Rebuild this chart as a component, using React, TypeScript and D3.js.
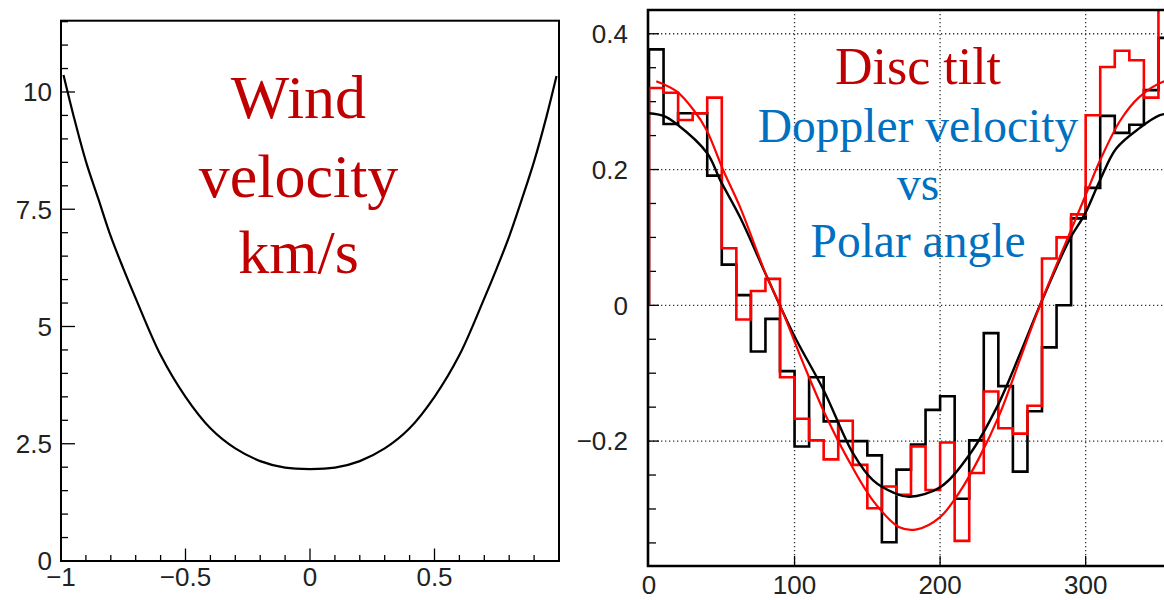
import React from 'react';
import * as d3 from 'd3';

// ---------- Left panel: wind velocity vs cos(theta) ----------
const windX = [-0.99, -0.95, -0.9, -0.85, -0.8, -0.75, -0.7, -0.6, -0.5, -0.4, -0.3, -0.2, -0.1, 0, 0.1, 0.2, 0.3, 0.4, 0.5, 0.6, 0.7, 0.75, 0.8, 0.85, 0.9, 0.95, 0.99];
const windV = [10.36, 9.50, 8.52, 7.72, 6.92, 6.24, 5.60, 4.39, 3.50, 2.83, 2.40, 2.13, 1.99, 1.96, 1.99, 2.13, 2.40, 2.83, 3.50, 4.39, 5.60, 6.24, 6.92, 7.70, 8.52, 9.48, 10.34];
const leftYMajor = [0, 2.5, 5, 7.5, 10];
const leftYLabels = ['0', '2.5', '5', '7.5', '10'];
const leftXMajor = [-1, -0.5, 0, 0.5, 1];
const leftXLabels = ['\u22121', '\u22120.5', '0', '0.5', '1'];
const leftTitle = ['Wind', 'velocity', 'km/s'];

// ---------- Right panel: Doppler velocity vs polar angle ----------
const binStart = [0, 10, 20, 30, 40, 50, 60, 70, 80, 90, 100, 110, 120, 130, 140, 150, 160, 170, 180, 190, 200, 210, 220, 230, 240, 250, 260, 270, 280, 290, 300, 310, 320, 330, 340, 350];
const binWidth = 10;
const blackHist = [0.377, 0.267, 0.283, 0.283, 0.191, 0.060, 0.015, -0.068, -0.020, -0.097, -0.208, -0.106, -0.171, -0.200, -0.200, -0.221, -0.349, -0.242, -0.205, -0.154, -0.134, -0.285, -0.199, -0.041, -0.119, -0.245, -0.156, -0.062, 0.000, 0.128, 0.173, 0.279, 0.254, 0.266, 0.317, 0.394];
const redHist = [0.320, 0.313, 0.273, 0.283, 0.306, 0.084, -0.021, 0.021, 0.039, -0.106, -0.167, -0.199, -0.227, -0.170, -0.235, -0.299, -0.267, -0.279, -0.208, -0.272, -0.202, -0.347, -0.247, -0.127, -0.181, -0.189, -0.148, 0.069, 0.100, 0.134, 0.280, 0.351, 0.375, 0.361, 0.306, 0.47];
const blackFitAngle = [0, 10, 19, 40, 49, 62.5, 81, 99.6, 120, 140.4, 154, 168, 179, 200, 220.5, 239, 255, 268.6, 288.7, 299.6, 310, 321, 337, 351, 360];
const blackFitVal = [0.283, 0.279, 0.267, 0.224, 0.184, 0.130, 0.042, -0.044, -0.125, -0.219, -0.258, -0.276, -0.282, -0.268, -0.219, -0.150, -0.071, 0.0, 0.096, 0.135, 0.185, 0.231, 0.261, 0.280, 0.283];
const redFitAngle = [5, 19, 30.5, 39.6, 51, 62.5, 81, 90, 108, 122, 136, 154, 172, 184, 200, 214, 227, 241, 255, 268.6, 289, 300.5, 310, 324, 337, 354, 360];
const redFitVal = [0.330, 0.315, 0.288, 0.258, 0.199, 0.145, 0.042, 0, -0.096, -0.165, -0.224, -0.288, -0.327, -0.330, -0.312, -0.273, -0.224, -0.160, -0.079, 0, 0.106, 0.165, 0.214, 0.273, 0.307, 0.330, 0.332];
const rightYMajor = [-0.2, 0, 0.2, 0.4];
const rightYLabels = ['\u22120.2', '0', '0.2', '0.4'];
const rightXMajor = [0, 100, 200, 300];
const rightXLabels = ['0', '100', '200', '300'];
const rightTitle = [
  { text: 'Disc tilt', color: '#c00000', size: 52 },
  { text: 'Doppler velocity', color: '#0070c0', size: 47.5 },
  { text: 'vs', color: '#0070c0', size: 47.5 },
  { text: 'Polar angle', color: '#0070c0', size: 47.5 },
];

const labelFont = "'Liberation Sans', Arial, Helvetica, sans-serif";
const serifFont = "'Liberation Serif', 'Times New Roman', serif";

export default function App() {
  // left scales
  const xL = d3.scaleLinear().domain([-1, 1]).range([61, 559]);
  const yL = d3.scaleLinear().domain([0, 11.52]).range([561, 20.7]);
  // right scales
  const xR = d3.scaleLinear().domain([0, 360]).range([649, 1173]);
  const yR = d3.scaleLinear().domain([-0.384, 0.435]).range([566, 10]);

  const windLine = d3.line<number>()
    .x((_, i) => xL(windX[i]))
    .y((d) => yL(d))
    .curve(d3.curveCatmullRom.alpha(0.5))(windV) || '';

  const histPath = (vals: number[]) => {
    const pts: [number, number][] = [[xR(0), yR(0)]];
    vals.forEach((v, i) => {
      pts.push([xR(binStart[i]), yR(v)]);
      pts.push([xR(binStart[i] + binWidth), yR(v)]);
    });
    pts.push([xR(360), yR(0)]);
    return d3.line()(pts) || '';
  };

  const fitPath = (ang: number[], val: number[]) =>
    d3.line<number>()
      .x((_, i) => xR(ang[i]))
      .y((d) => yR(d))
      .curve(d3.curveCatmullRom)(val) || '';

  const leftYMinor = yL.ticks(20);
  const leftXMinor = xL.ticks(20);
  const rightYMinor = yR.ticks(20);

  const titleBaselinesL = [118.3, 196.5, 273.3];
  const titleBaselinesR = [83.5, 142, 199.5, 257];
  const leftXLabelX = (t: number) => (t === 1 ? xL(t) + 7 : xL(t));

  return (
    <svg width={1164} height={600} style={{ position: 'absolute', left: 0, top: 0, background: '#fff' }}>
      <defs>
        <clipPath id="leftPanel"><rect x={0} y={0} width={560} height={600} /></clipPath>
        <clipPath id="rightPanel"><rect x={561} y={0} width={603} height={600} /></clipPath>
        <clipPath id="rightPlot"><rect x={648} y={10} width={516} height={556} /></clipPath>
        <clipPath id="leftPlot"><rect x={61} y={20.7} width={498} height={540.3} /></clipPath>
      </defs>
      <rect x={0} y={0} width={1164} height={600} fill="#fff" />

      {/* ---------------- LEFT PANEL ---------------- */}
      <g clipPath="url(#leftPanel)">
        {leftYMinor.map((t) => (
          <line key={'lym' + t} x1={xL(-1)} x2={xL(-1) + (leftYMajor.includes(t) ? 14 : 7)} y1={yL(t)} y2={yL(t)} stroke="#000" strokeWidth={1.3} />
        ))}
        {leftXMinor.map((t) => (
          <line key={'lxm' + t} x1={xL(t)} x2={xL(t)} y1={yL(0)} y2={yL(0) - (leftXMajor.some((m) => Math.abs(m - t) < 1e-9) ? 12.5 : 6)} stroke="#000" strokeWidth={1.3} />
        ))}
        <path d={windLine} fill="none" stroke="#000" strokeWidth={2.2} clipPath="url(#leftPlot)" />
        <rect x={xL(-1)} y={yL(11.52)} width={xL(1) - xL(-1)} height={yL(0) - yL(11.52)} fill="none" stroke="#000" strokeWidth={2} />
        {leftYMajor.map((t, i) => (
          <text key={'lyl' + t} x={52} y={yL(t)} dy="0.36em" textAnchor="end" fontFamily={labelFont} fontSize={26} fill="#222">{leftYLabels[i]}</text>
        ))}
        {leftXMajor.map((t, i) => (
          <text key={'lxl' + t} x={leftXLabelX(t)} y={586} textAnchor="middle" fontFamily={labelFont} fontSize={26} fill="#222">{leftXLabels[i]}</text>
        ))}
        {leftTitle.map((s, i) => (
          <text key={'lt' + i} x={298.5} y={titleBaselinesL[i]} textAnchor="middle" fontFamily={serifFont} fontSize={62} fill="#c00000">{s}</text>
        ))}
      </g>

      {/* ---------------- RIGHT PANEL ---------------- */}
      <g clipPath="url(#rightPanel)">
        {/* dotted grid */}
        <g clipPath="url(#rightPlot)">
          {rightYMajor.map((t) => (
            <line key={'gy' + t} x1={xR(0)} x2={1164} y1={yR(t)} y2={yR(t)} stroke="#333" strokeWidth={1.3} strokeDasharray="1.3 2.7" />
          ))}
          {rightXMajor.filter((t) => t > 0).map((t) => (
            <line key={'gx' + t} x1={xR(t)} x2={xR(t)} y1={yR(0.435)} y2={yR(-0.384)} stroke="#333" strokeWidth={1.3} strokeDasharray="1.3 2.7" />
          ))}
        </g>
        {/* ticks */}
        {rightYMinor.map((t) => (
          <line key={'rym' + t} x1={648} x2={648 + (rightYMajor.some((m) => Math.abs(m - t) < 1e-9) ? 11 : 8)} y1={yR(t)} y2={yR(t)} stroke="#000" strokeWidth={1.3} />
        ))}
        {rightXMajor.filter((t) => t > 0).map((t) => (
          <line key={'rxm' + t} x1={xR(t)} x2={xR(t)} y1={566} y2={556} stroke="#000" strokeWidth={1.3} />
        ))}
        <g clipPath="url(#rightPlot)">
          <path d={histPath(blackHist)} fill="none" stroke="#000" strokeWidth={2.6} strokeLinejoin="miter" />
          <path d={histPath(redHist)} fill="none" stroke="#ff0000" strokeWidth={2.6} strokeLinejoin="miter" />
          <path d={fitPath(blackFitAngle, blackFitVal)} fill="none" stroke="#000" strokeWidth={2.4} />
          <path d={fitPath(redFitAngle, redFitVal)} fill="none" stroke="#ff0000" strokeWidth={2.2} />
        </g>
        {/* frame */}
        <path d={`M1164,10 L648,10 L648,566 L1164,566`} fill="none" stroke="#000" strokeWidth={2.6} />
        {rightYMajor.map((t, i) => (
          <text key={'ryl' + t} x={628} y={yR(t)} dy="0.36em" textAnchor="end" fontFamily={labelFont} fontSize={26} fill="#222">{rightYLabels[i]}</text>
        ))}
        {rightXMajor.map((t, i) => (
          <text key={'rxl' + t} x={xR(t)} y={594} textAnchor="middle" fontFamily={labelFont} fontSize={26} fill="#222">{rightXLabels[i]}</text>
        ))}
        {rightTitle.map((s, i) => (
          <text key={'rt' + i} x={918} y={titleBaselinesR[i]} textAnchor="middle" fontFamily={serifFont} fontSize={s.size} fill={s.color}>{s.text}</text>
        ))}
      </g>
    </svg>
  );
}
